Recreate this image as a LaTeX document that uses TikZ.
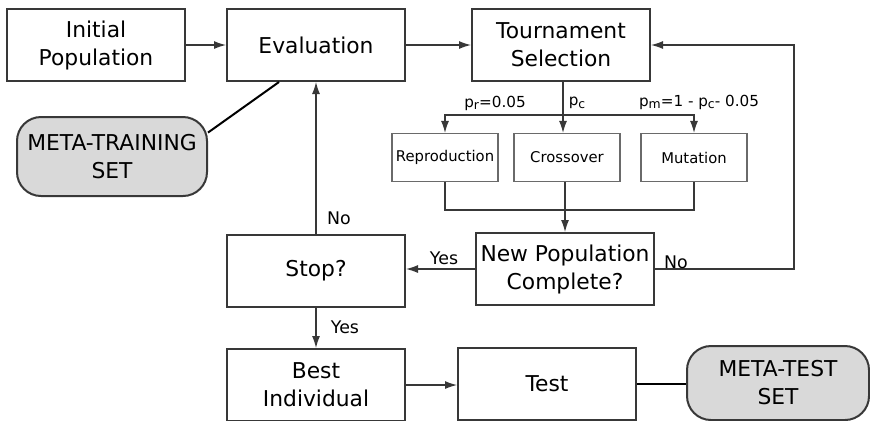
\documentclass[tikz,border=0pt]{standalone}
\usepackage{fontspec}
\setmainfont{DejaVu Sans}
\usetikzlibrary{arrows.meta}
\definecolor{boxgray}{gray}{0.22}
\definecolor{setgray}{gray}{0.85}
\newcommand{\psub}[1]{\raisebox{-0.35ex}{\fontsize{6.2}{7}\selectfont #1}}
\tikzset{
  box/.style={draw=boxgray, line width=1pt, minimum width=89pt, minimum height=36pt, inner sep=0pt, align=center, font=\fontsize{10.9}{14}\selectfont},
  smallbox/.style={draw=boxgray!75, line width=0.6pt, minimum width=53pt, minimum height=24pt, inner sep=0pt, font=\fontsize{7.4}{9}\selectfont},
  setbox/.style={box, fill=setgray, rounded corners=12pt, minimum width=95pt, minimum height=39.5pt},
  lbl/.style={font=\fontsize{8.7}{10}\selectfont, inner sep=0pt},
  plbl/.style={font=\fontsize{7.6}{9}\selectfont, inner sep=0pt},
  link/.style={draw=boxgray, line width=0.6pt, -{Latex[length=6pt,width=4pt]}},
  plain/.style={draw=boxgray, line width=0.6pt},
  setlink/.style={draw=black, line width=1pt},
}
\begin{document}
\begin{tikzpicture}[x=0.5pt,y=-0.5pt]
\useasboundingbox (0,0) rectangle (870,420);

% main boxes
\node[box] (init) at (96,45) {Initial\\Population};
\node[box] (eval) at (316,45) {Evaluation};
\node[box] (tour) at (561,45) {Tournament\\Selection};
\node[box] (newpop) at (565,269) {New Population\\Complete?};
\node[box] (stop) at (316,271) {Stop?};
\node[box] (best) at (316,385) {Best\\Individual};
\node[box] (test) at (547,384) {Test};

% operators
\node[smallbox] (repr) at (445,157.5) {Reproduction};
\node[smallbox] (cross) at (567,157.5) {Crossover};
\node[smallbox] (mut) at (694,157.5) {Mutation};

% data sets
\node[setbox] (train) at (112,156.5) {META-TRAINING\\SET};
\node[setbox, minimum width=91pt, minimum height=37pt] (testset) at (778,383) {META-TEST\\SET};

\coordinate (split) at (563,115);
\coordinate (join) at (565,210);
\coordinate (loop) at (794,0);

% connectors
\draw[link] (init) -- (eval);
\draw[link] (eval) -- (tour);
\draw[plain] (tour.south -| split) -- (split);
\draw[link] (split) -- (split |- cross.north);
\draw[link] (split) -| (repr.north);
\draw[link] (split) -| (mut.north);
\draw[plain] (repr.south) |- (join) -| (mut.south);
\draw[plain] (cross.south -| join) -- (join);
\draw[link] (join) -- (newpop.north);
\draw[link] (newpop.east) -- (newpop.east -| loop) -- (tour.east -| loop) -- (tour.east);
\draw[link] (newpop.west) -- (newpop.west -| stop.east);
\draw[link] (stop.north) -- (eval.south);
\draw[link] (stop.south) -- (best.north);
\draw[link] (best.east) -- (best.east -| test.west);
\draw[setlink] (test.east) -- (test.east -| testset.west);
\draw[setlink] (eval.225) -- (train.14);

% labels
\node[plbl] (pr) at (495,103) {p\psub{r}=0.05};
\node[plbl] (pc) at (577,103) {p\psub{c}};
\node[plbl] (pm) at (699,102) {p\psub{m}=1 - p\psub{c}- 0.05};
\node[lbl] (yes1) at (444,258) {Yes};
\node[lbl] (no1) at (676,262) {No};
\node[lbl] (no2) at (339,218) {No};
\node[lbl] (yes2) at (345,327) {Yes};
\end{tikzpicture}
\end{document}
